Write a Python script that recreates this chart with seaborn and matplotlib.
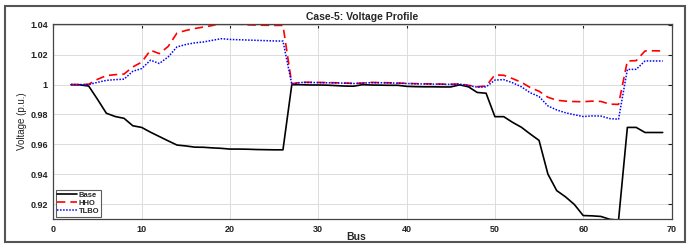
import numpy as np
import pandas as pd
import matplotlib
matplotlib.use("Agg")
import matplotlib.pyplot as plt
import seaborn as sns
from matplotlib.patches import Rectangle

# bus positions as drawn on the x axis
bus = list(range(2, 70))

base = [0.9999, 0.9998, 0.9990, 0.9901, 0.9808, 0.9786, 0.9774, 0.9724, 0.9713, 0.9681,
        0.9652, 0.9623, 0.9595, 0.9589, 0.9581, 0.9580, 0.9576, 0.9573, 0.9568, 0.9568,
        0.9567, 0.9565, 0.9564, 0.9563, 0.9563, 0.9999, 0.9999, 0.9997, 0.9997, 0.9996,
        0.9993, 0.9990, 0.9989, 0.9999, 0.9997, 0.9996, 0.9995, 0.9995, 0.9988, 0.9986,
        0.9985, 0.9985, 0.9984, 0.9984, 0.9998, 0.9985, 0.9947, 0.9942, 0.9785, 0.9785,
        0.9747, 0.9714, 0.9669, 0.9626, 0.9401, 0.9290, 0.9248, 0.9197, 0.9123, 0.9121,
        0.9117, 0.9098, 0.9092, 0.9713, 0.9713, 0.9679, 0.9679, 0.9679]

hho = [1.0000, 1.0000, 1.0002, 1.0035, 1.0060, 1.0066, 1.0070, 1.0118, 1.0150, 1.0230,
       1.0207, 1.0255, 1.0345, 1.0362, 1.0375, 1.0385, 1.0395, 1.0412, 1.0408, 1.0405,
       1.0400, 1.0398, 1.0397, 1.0396, 1.0396, 1.0005, 1.0015, 1.0015, 1.0014, 1.0013,
       1.0012, 1.0010, 1.0008, 1.0010, 1.0014, 1.0013, 1.0012, 1.0010, 1.0008, 1.0006,
       1.0005, 1.0004, 1.0003, 1.0002, 1.0004, 0.9995, 0.9985, 0.9990, 1.0065, 1.0062,
       1.0040, 1.0015, 0.9980, 0.9955, 0.9915, 0.9895, 0.9889, 0.9886, 0.9885, 0.9889,
       0.9887, 0.9869, 0.9867, 1.0158, 1.0160, 1.0225, 1.0226, 1.0225]

tlbo = [1.0000, 1.0000, 1.0000, 1.0015, 1.0028, 1.0033, 1.0036, 1.0089, 1.0107, 1.0163,
        1.0141, 1.0185, 1.0252, 1.0268, 1.0279, 1.0285, 1.0296, 1.0307, 1.0302, 1.0300,
        1.0298, 1.0296, 1.0294, 1.0292, 1.0291, 1.0002, 1.0014, 1.0014, 1.0013, 1.0012,
        1.0011, 1.0009, 1.0007, 1.0009, 1.0013, 1.0012, 1.0011, 1.0009, 1.0007, 1.0005,
        1.0004, 1.0003, 1.0002, 1.0001, 1.0003, 0.9993, 0.9983, 0.9984, 1.0030, 1.0033,
        1.0012, 0.9985, 0.9945, 0.9920, 0.9857, 0.9830, 0.9811, 0.9798, 0.9786, 0.9790,
        0.9789, 0.9772, 0.9768, 1.0101, 1.0102, 1.0158, 1.0158, 1.0158]

yticks = [0.92, 0.94, 0.96, 0.98, 1.00, 1.02, 1.04]
ytick_labels = ["0.92", "0.94", "0.96", "0.98", "1", "1.02", "1.04"]

sns.set_style("whitegrid")
plt.rcParams['font.family'] = ['Liberation Sans', 'DejaVu Sans']

fig = plt.figure(figsize=(6.93, 2.48), dpi=100)
ax = fig.add_axes([0.077, 0.117, 0.892, 0.786])

df = pd.DataFrame({"bus": bus, "Base": base, "HHO": hho, "TLBO": tlbo})

sns.lineplot(data=df, x="bus", y="Base", ax=ax, color="black", linewidth=1.2, label="Base")
sns.lineplot(data=df, x="bus", y="HHO", ax=ax, color="red", linewidth=1.2,
             linestyle=(0, (5, 3)), label="HHO")
sns.lineplot(data=df, x="bus", y="TLBO", ax=ax, color="blue", linewidth=1.1,
             linestyle=(0, (1, 1)), label="TLBO")

ax.set_xlim(0, 70)
ax.set_ylim(0.91, 1.0405)
ax.set_xticks(range(0, 71, 10))
ax.set_yticks(yticks)
ax.set_yticklabels(ytick_labels)

ax.grid(True, color="#dcdcdc", linewidth=0.7)
ax.tick_params(direction="in", length=3, width=0.8, labelsize=6.5, colors="#222222",
               top=True, right=True, pad=4)
for lab in ax.get_xticklabels() + ax.get_yticklabels():
    lab.set_fontweight("bold")
for sp in ax.spines.values():
    sp.set_color("#444444")
    sp.set_linewidth(0.9)

ax.set_xlabel("Bus", fontsize=7.5, fontweight="bold", labelpad=0)
ax.xaxis.set_label_coords(0.49, -0.065)
ax.set_ylabel("Voltage (p.u.)", fontsize=7, labelpad=2)
ax.set_title("Case-5: Voltage Profile", fontsize=7.5, fontweight="bold", pad=3)

leg = ax.legend(loc="lower left", frameon=True, fancybox=False,
                handlelength=2.6, handletextpad=0.2, borderpad=0.2, labelspacing=0.1,
                borderaxespad=0.3, prop={"weight": "bold", "size": 5.5})
leg.get_frame().set_edgecolor("#333333")
leg.get_frame().set_linewidth(0.8)

# outer frame around the whole figure
fig.patches.append(Rectangle((5 / 693, 6 / 248), 680 / 693, 236 / 248,
                             transform=fig.transFigure, fill=False,
                             edgecolor="#555555", linewidth=1.5))

fig.savefig("out.png", dpi=100)
